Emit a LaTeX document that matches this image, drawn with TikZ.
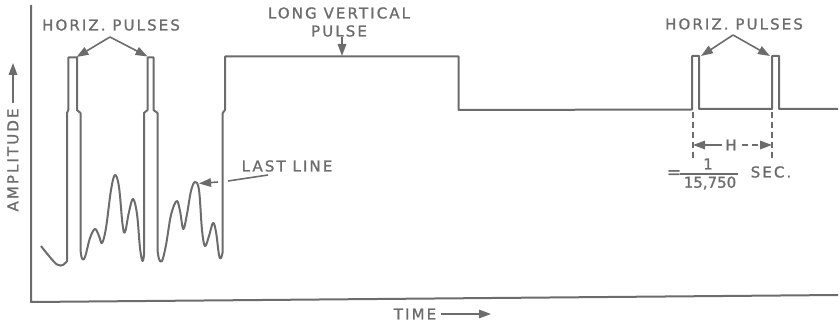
\documentclass[tikz,border=0pt]{standalone}
\usepackage{fontspec}
\setmainfont{DejaVu Sans}[LetterSpace=14, FakeBold=1.2]
\usetikzlibrary{arrows.meta}
\definecolor{ink}{RGB}{108,108,108}
\begin{document}
\begin{tikzpicture}[x=1pt,y=-1pt,
  wave/.style={draw=ink, line width=2pt, line join=round},
  lbl/.style={text=ink, font=\fontsize{15}{18}\selectfont, inner sep=0pt},
  ptr/.style={draw=ink, line width=1.6pt, -{Triangle[length=12pt,width=8.5pt]}},
  plain/.style={draw=ink, line width=1.6pt},
  dimline/.style={draw=ink, line width=1.6pt, dash pattern=on 6pt off 4pt}]
\useasboundingbox (0,0) rectangle (840,323);
% axes
\draw[wave] (31,5) -- (31,302) -- (838,295);
% waveform
\draw[wave] plot[smooth, tension=0.6] coordinates {(41,246) (49,256) (57,264.5) (63,265) (67,261)}
 -- (67,113) -- (68.3,110) -- (68.3,57.5) -- (77,57.5) -- (77,110) -- (80.5,113) -- (80.5,250)
 -- plot[smooth, tension=0.6] coordinates {(80.5,250) (82,258.5) (85,257) (90,238) (95,229) (99,236) (102,243) (106,228) (111,190) (115,175) (119,187) (122.5,224) (125,232) (129,212) (133,199) (137,214) (140,248) (142.5,261) (144,255)}
 -- (144,113) -- (147.5,110) -- (147.5,57.5) -- (153.5,57.5) -- (153.5,110) -- (157.5,113) -- (157.5,250)
 -- plot[smooth, tension=0.6] coordinates {(157.5,250) (159,259) (162,261) (166,245) (171,215) (176.7,201) (180,211) (183.3,229) (187,214) (191,191) (195,182) (199,190) (202,230) (205,246) (209,236) (213,223) (216,232) (219,255) (221,258) (222.7,252)}
 -- (222.7,113) -- (225,110) -- (225,56.5) -- (458.5,56.5) -- (458.5,110)
 -- (692,109.5) -- (692,56) -- (699,56) -- (699,109) -- (772,109) -- (772,56) -- (779,56) -- (779,109) -- (838,109);
% left horiz pulses label
\node[lbl] (hpL) at (111,25) {HORIZ. PULSES};
\coordinate (apexL) at (110,37);
\coordinate (tipL1) at (76.5,57);
\coordinate (tipL2) at (147.5,56.5);
\draw[ptr] (apexL) -- (tipL1);
\draw[ptr] (apexL) -- (tipL2);
% long vertical pulse
\node[lbl, align=center] (lvp) at (339,22) {LONG VERTICAL\\PULSE};
\coordinate (lvtip) at (342,56);
\draw[ptr] (lvp.south -| lvtip) -- (lvtip);
% last line
\node[lbl] (ll) at (287,166) {LAST LINE};
\coordinate (llstart) at (268,175);
\coordinate (llgap1) at (228,181);
\coordinate (llgap2) at (218,182);
\coordinate (lltip) at (199,183.5);
\draw[plain] (llstart) -- (llgap1);
\draw[ptr] (llgap2) -- (lltip);
% right horiz pulses label
\node[lbl] (hpR) at (734,24) {HORIZ. PULSES};
\coordinate (apexR) at (733,35);
\coordinate (tipR1) at (701,56);
\coordinate (tipR2) at (770,56);
\draw[ptr] (apexR) -- (tipR1);
\draw[ptr] (apexR) -- (tipR2);
% dimension
\coordinate (d1top) at (693,112);
\coordinate (d1bot) at (693,161);
\coordinate (d2top) at (772,112);
\coordinate (d2bot) at (772,161);
\draw[dimline] (d1top) -- (d1bot);
\draw[dimline] (d2top) -- (d2bot);
\node[lbl] (H) at (731,145) {H};
\draw[ptr] ([xshift=-3pt]H.west) -- (d1top |- H.west);
\draw[ptr, dash pattern=on 6pt off 4pt] ([xshift=5pt]H.east) -- (d2top |- H.east);
% fraction
\node[lbl, font=\fontsize{17}{18}\selectfont] (eq) at (674,174) {=};
\node[lbl] (num) at (708,164) {1};
\node[lbl] (den) at (710,183) {\addfontfeature{LetterSpace=0}15,750};
\draw[plain] (680,174) -- (738,174);
\node[lbl] (sec) at (771,172) {SEC.};
% axis labels
\node[lbl, rotate=90] (amp) at (13,160) {AMPLITUDE};
\coordinate (amptip) at (13,63);
\draw[ptr] ([yshift=5pt]amp.east) -- (amp.east |- amptip);
\node[lbl] (time) at (415,314) {TIME};
\coordinate (timetip) at (491,314);
\draw[ptr] ([xshift=5pt]time.east) -- (timetip);
\end{tikzpicture}
\end{document}
